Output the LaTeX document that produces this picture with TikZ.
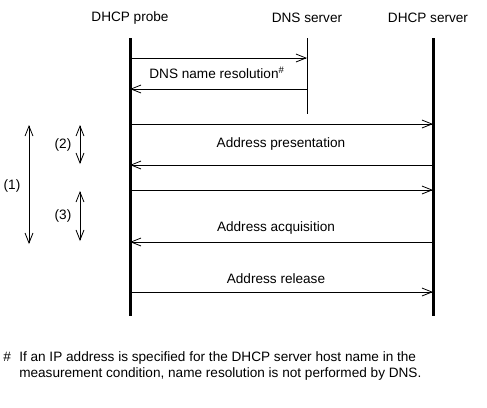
\documentclass[tikz,border=0pt]{standalone}
\usepackage{fontspec}
\setmainfont{Liberation Sans}
\usetikzlibrary{arrows.meta}
\begin{document}
\begin{tikzpicture}[x=0.75pt,y=-0.75pt,
  every node/.style={font=\fontsize{10.2}{12}\selectfont, inner sep=0pt},
  life/.style={line width=2.25pt},
  thinlife/.style={line width=0.75pt},
  msg/.style={line width=0.75pt,-{Straight Barb[length=7.5pt,width=6pt,line width=0.6pt]}},
  span/.style={line width=0.75pt,{Straight Barb[length=7.5pt,width=6pt,line width=0.6pt]}-{Straight Barb[length=7.5pt,width=6pt,line width=0.6pt]}},
  lbl/.style={anchor=center}]
\useasboundingbox (0,0) rectangle (487,408);
% headers
\node[lbl] (hprobe) at (130,18) {DHCP probe};
\node[lbl] (hdns) at (307,18) {DNS server};
\node[lbl] (hdhcp) at (428,18) {DHCP server};
% lifelines
\coordinate (pt) at (130,38); \coordinate (pb) at (130,316);
\coordinate (nt) at (307,38); \coordinate (nb) at (307,114);
\coordinate (st) at (433,38); \coordinate (sb) at (433,316);
\draw[life] (pt) -- (pb);
\draw[thinlife] (nt) -- (nb);
\draw[life] (st) -- (sb);
% message points
\coordinate (p1) at (130,58);  \coordinate (n1) at (307,58);
\coordinate (p2) at (130,89);  \coordinate (n2) at (307,89);
\coordinate (p3) at (130,124); \coordinate (s3) at (433,124);
\coordinate (p4) at (130,165); \coordinate (s4) at (433,165);
\coordinate (p5) at (130,190); \coordinate (s5) at (433,190);
\coordinate (p6) at (130,242); \coordinate (s6) at (433,242);
\coordinate (p7) at (130,292); \coordinate (s7) at (433,292);
\draw[msg] (p1) -- (n1);
\draw[msg] (n2) -- (p2);
\draw[msg] (p3) -- (s3);
\draw[msg] (s4) -- (p4);
\draw[msg] (p5) -- (s5);
\draw[msg] (s6) -- (p6);
\draw[msg] (p7) -- (s7);
\node[lbl] (l1) at (217,73) {DNS name resolution\textsuperscript{\#}};
\node[lbl] (l2) at (281,144) {Address presentation};
\node[lbl] (l3) at (276,228) {Address acquisition};
\node[lbl] (l4) at (276,279) {Address release};
% spans
\coordinate (a1t) at (29,125); \coordinate (a1b) at (29,244);
\coordinate (a2t) at (80,125); \coordinate (a2b) at (80,164);
\coordinate (a3t) at (80,191); \coordinate (a3b) at (80,241);
\draw[span] (a1t) -- (a1b);
\draw[span] (a2t) -- (a2b);
\draw[span] (a3t) -- (a3b);
\node[lbl] (k1) at (12,186) {(1)};
\node[lbl] (k2) at (63,145) {(2)};
\node[lbl] (k3) at (63,216) {(3)};
% footnote
\node[anchor=base west] (fh) at (3,361) {\#};
\node[anchor=base west] (ft1) at (19,361) {If an IP address is specified for the DHCP server host name in the};
\node[anchor=base west] (ft2) at (19,377) {measurement condition, name resolution is not performed by DNS.};
\end{tikzpicture}
\end{document}
